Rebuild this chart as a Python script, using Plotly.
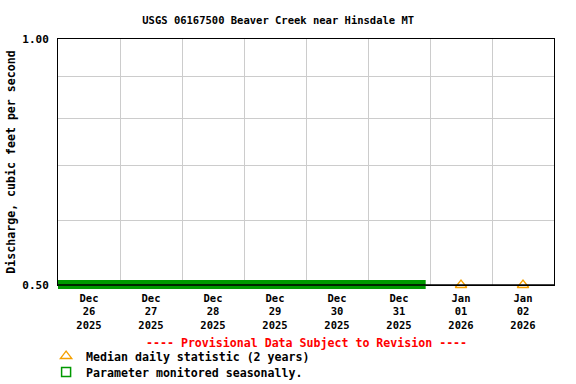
import plotly.graph_objects as go

# ---- data ----
title_text = "USGS 06167500 Beaver Creek near Hinsdale MT"
y_label = "Discharge, cubic feet per second"
day_dates = ["2025-12-26", "2025-12-27", "2025-12-28", "2025-12-29",
             "2025-12-30", "2025-12-31", "2026-01-01", "2026-01-02"]
day_labels = ["Dec<br>26<br>2025", "Dec<br>27<br>2025", "Dec<br>28<br>2025",
              "Dec<br>29<br>2025", "Dec<br>30<br>2025", "Dec<br>31<br>2025",
              "Jan<br>01<br>2026", "Jan<br>02<br>2026"]
median_dates = ["2026-01-01 12:00", "2026-01-02 12:00"]
median_values = [0.5, 0.5]
seasonal_start = "2025-12-25 22:30"
seasonal_end = "2025-12-31 22:20"
y_ticks = [0.5, 1.0]
y_ticktext = ["0.50", "1.00"]
y_grid = [0.6, 0.7, 0.8, 0.9]
x_range = ["2025-12-26 00:00", "2026-01-03 00:00"]
grid_dates = ["2025-12-27", "2025-12-28", "2025-12-29", "2025-12-30",
              "2025-12-31", "2026-01-01", "2026-01-02"]

FONT = "DejaVu Sans Mono"
fs = 11.6

fig = go.Figure()

fig.add_trace(go.Scatter(
    x=median_dates, y=median_values, mode="markers",
    marker=dict(symbol="triangle-up-open", size=10, color="#f5a000",
                line=dict(width=1.3, color="#f5a000")),
    cliponaxis=False, legend="legend",
    name="Median daily statistic (2 years)",
))
fig.add_trace(go.Scatter(
    x=[None], y=[None], mode="markers",
    marker=dict(symbol="square-open", size=9, color="#009900",
                line=dict(width=1.5, color="#009900")),
    legend="legend2",
    name="Parameter monitored seasonally.",
))

# seasonal band
fig.add_shape(type="rect", xref="x", yref="paper",
              x0=seasonal_start, x1=seasonal_end,
              y0=-0.0163, y1=0.0203,
              fillcolor="#009900", line=dict(width=0), layer="above")
# redraw bottom axis line above band
fig.add_shape(type="line", xref="paper", yref="paper", x0=0, x1=1, y0=0, y1=0,
              line=dict(color="black", width=1.5), layer="above")

fig.add_annotation(
    text="---- Provisional Data Subject to Revision ----",
    xref="paper", yref="paper", x=0.5, y=-0.236, yanchor="middle", showarrow=False,
    font=dict(family=FONT, size=fs, color="red", weight="bold"),
)

legend_common = dict(x=-0.024, xanchor="left", yanchor="top",
                     font=dict(family=FONT, size=fs, color="black", weight="bold"),
                     bgcolor="rgba(0,0,0,0)", tracegroupgap=0, itemwidth=30)

fig.update_layout(
    width=576, height=384,
    margin=dict(l=58, r=22, t=39, b=99, autoexpand=False),
    paper_bgcolor="white", plot_bgcolor="white",
    title=dict(text=title_text, x=0.483, xanchor="center", y=0.948, yanchor="middle",
               xref="container", yref="container",
               font=dict(family=FONT, size=10.5, color="black", weight="bold")),
    font=dict(family=FONT, size=fs, color="black"),
    showlegend=True,
    legend=dict(y=-0.2297, **legend_common),
    legend2=dict(y=-0.2947, **legend_common),
)

fig.update_xaxes(
    type="date", range=x_range,
    tickmode="array", tickvals=[d + " 12:00" for d in day_dates], ticktext=day_labels,
    ticks="", showgrid=False, ticklabelstandoff=3,
    minor=dict(tickmode="array", tickvals=grid_dates, showgrid=True,
               gridcolor="#cccccc", gridwidth=1, ticks=""),
    showline=True, linecolor="black", linewidth=1, mirror=True,
    tickfont=dict(family=FONT, size=10.5, color="black", weight="bold"),
    zeroline=False, fixedrange=True,
)
fig.update_yaxes(
    type="log", range=[-0.30103, 0],
    tickmode="array", tickvals=y_ticks, ticktext=y_ticktext,
    ticks="", showgrid=False, ticklabelstandoff=6,
    minor=dict(tickmode="array", tickvals=y_grid, showgrid=True,
               gridcolor="#cccccc", gridwidth=1, ticks=""),
    showline=True, linecolor="black", linewidth=1, mirror=True,
    tickfont=dict(family=FONT, size=11, color="black", weight="bold"),
    title=dict(text=y_label, standoff=4,
               font=dict(family=FONT, size=fs, color="black", weight="bold")),
    zeroline=False, fixedrange=True,
)

fig.write_html("out.html", config={"displayModeBar": False},
               post_script="document.body.style.margin='0';document.body.style.padding='0';")
